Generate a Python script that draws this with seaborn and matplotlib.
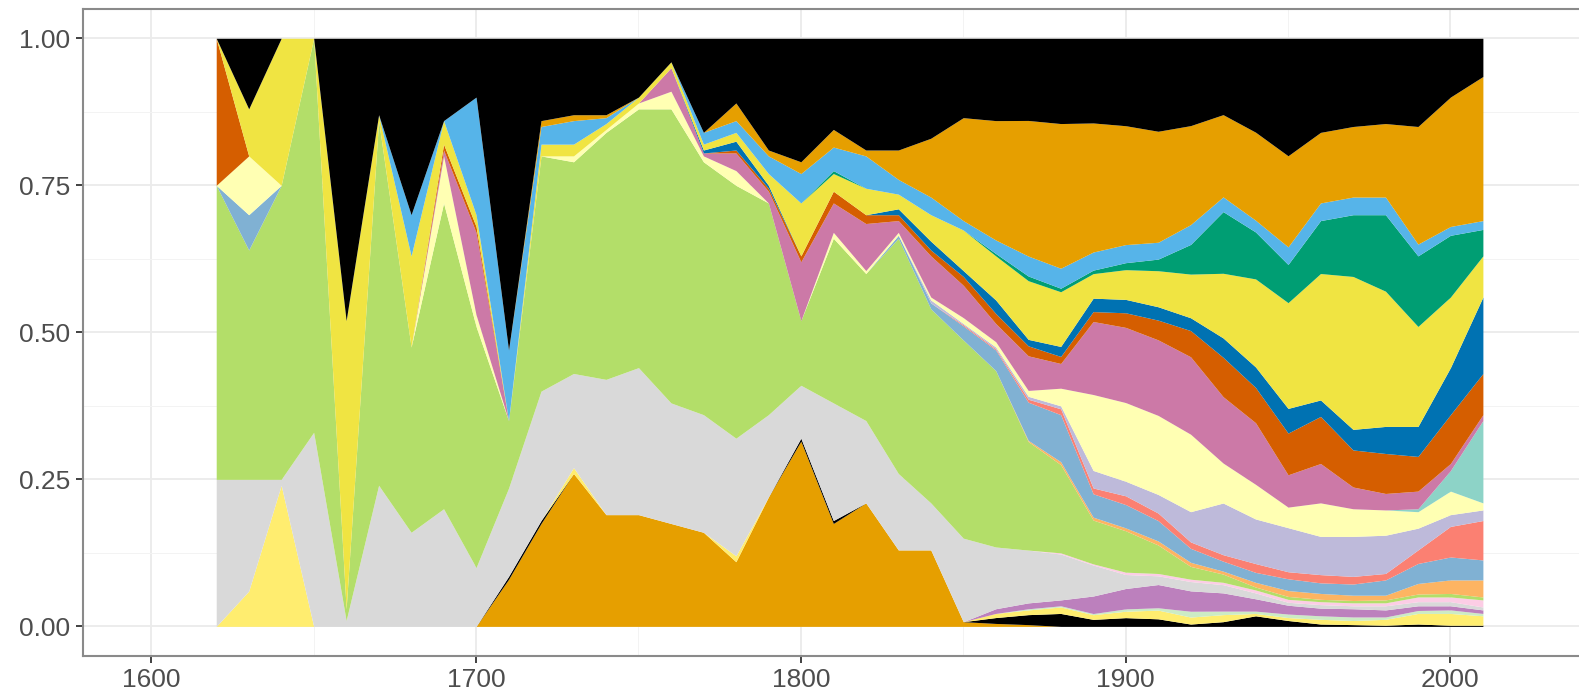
import numpy as np
import pandas as pd
import matplotlib
matplotlib.use("Agg")
import matplotlib.pyplot as plt
import seaborn as sns

# --- data: share of each group per decade ---
decades = list(range(1620, 2020, 10))

black = [0, .12, 0, 0, .48, .13, .30, .14, .10, .53,
         .14, .13, .13, .10, .04, .16, .11, .19, .21, .155,
         .19, .19, .17, .135, .14, .14, .145, .145, .15, .16,
         .15, .13, .16, .20, .16, .15, .145, .15, .10, .065]
orange = [0, 0, 0, 0, 0, 0, 0, 0, 0, 0,
          .01, .01, .005, 0, 0, 0, .03, .01, .02, .03,
          .01, .05, .10, .175, .203, .231, .246, .221, .204, .191,
          .17, .14, .15, .155, .12, .12, .125, .20, .22, .245]
sky_blue = [0, 0, 0, 0, 0, 0, .07, 0, .20, .12,
            .03, .04, .01, 0, 0, .02, .02, .03, .05, .04,
            .055, .025, .03, .016, .023, .034, .034, .031, .031, .029,
            .034, .025, .02, .03, .03, .03, .03, .02, .015, .015]
green = [0] * 19 + [.005, 0, 0, 0, 0, .004, .008, .006, .006, .012, .02,
                    .051, .105, .08, .065, .09, .105, .13, .12, .105, .045]
yellow = [0, .08, .25, 0, .49, .01, .155, .04, .02, 0,
          .02, .02, .01, .01, .01, .01, .015, .02, .09, .03,
          .045, .025, .045, .069, .075, .10, .093, .042, .051, .062,
          .075, .11, .15, .18, .215, .26, .23, .17, .12, .07]
blue = [0] * 15 + [.005, .015, .005, 0, 0,
                   0, .01, .015, .01, .023, .011, .017, .023, .023, .023,
                   .022, .033, .035, .042, .028, .035, .046, .051, .08, .13]
vermillion = [.25, 0, 0, 0, 0, 0, 0, .01, .01, 0,
              0, 0, 0, 0, 0, 0, .005, .005, .01, .02,
              .015, .01, .01, .015, .017, .017, .012, .017, .025, .034,
              .045, .067, .06, .071, .08, .063, .068, .059, .083, .07]
reddish_purple = [0, 0, 0, 0, 0, 0, 0, .01, .14, 0,
                  0, 0, 0, 0, .04, .005, .03, .02, .10, .05,
                  .08, .02, .07, .055, .031, .059, .042, .125, .129, .13,
                  .133, .113, .105, .055, .067, .037, .028, .03, .012, .01]
teal = [0] * 37 + [.005, .035, .14]
light_yellow = [0, .10, 0, 0, 0, 0, 0, .08, .02, 0,
                0, .01, .005, .01, .03, .01, .025, 0, 0, .01,
                .005, .005, .005, .01, .009, .01, .03, .13, .135, .136,
                .133, .068, .059, .035, .057, .047, .043, .028, .04, .012]
lavender = [0] * 22 + [.005, .002, .003, .005, .005, .03, .025, .032, .052,
                       .088, .076, .075, .065, .068, .065, .037, .02, .018]
salmon = [0] * 23 + [.002, .002, .005, .01, .01, .015, .013, .011, .011,
                     .015, .012, .014, .013, .011, .023, .052, .067]
light_blue = [0, .06] + [0] * 19 + [.005, .01, .024, .035, .065, .08, .04, .04,
                                    .035, .024, .017, .017, .02, .018, .019,
                                    .026, .034, .039, .034]
light_orange = [0] * 25 + [.002, .005, .005, .005, .007, .007, .005, .008,
                           .01, .01, .009, .008, .018, .023, .029]
light_green = [.50, .39, .50, .67, .02, .62, .315, .52, .41, .115,
               .40, .36, .42, .44, .50, .43, .43, .36, .11, .28,
               .25, .40, .33, .337, .30, .185, .15, .075, .071, .049,
               .022, .014, .005, .005, .004, .004, .005, .005, .006, .005]
pink = [0] * 26 + [.002, .002, .004, .004, .004, .004, .005, .005, .005,
                   .005, .005, .008, .008, .012]
gray = [.25, .19, .01, .33, .01, .24, .16, .20, .10, .15,
        .22, .16, .23, .25, .205, .20, .20, .14, .09, .20,
        .14, .13, .08, .142, .105, .09, .078, .053, .024, .015,
        .016, .014, .01, .005, .006, .005, .007, .007, .007, .005]
purple = [0] * 24 + [.008, .01, .01, .03, .035, .04, .035, .031, .021, .015,
                     .013, .014, .012, .008, .007, .006]
mint = [0] * 25 + [.002, .002, .002, .004, .004, .01, .006, .004, .006,
                   .006, .006, .004, .005, .006, .004]
yellow_2 = [0, .06, .24, 0, 0, 0, 0, 0, 0, 0,
            0, .01, 0, 0, 0, 0, .01, 0, 0, 0,
            0, 0, 0, 0, .007, .008, .011, .008, .011, .015,
            .012, .012, .004, .005, .008, .007, .01, .018, .02, .016]
black_2 = [0, 0, 0, 0, 0, 0, 0, 0, 0, .005,
           .005, 0, 0, 0, 0, 0, 0, 0, .005, .005,
           0, 0, 0, 0, .01, .017, .022, .012, .015, .013,
           .004, .008, .018, .01, .004, .003, .002, .004, .002, .002]
orange_2 = [0, 0, 0, 0, 0, 0, 0, 0, 0, .08,
            .175, .26, .19, .19, .175, .16, .11, .22, .315, .175,
            .21, .13, .13, .008, .005, .003, 0, 0, 0, 0,
            0, 0, 0, 0, 0, 0, 0, 0, 0, 0]

layer_names = ["black", "orange", "sky_blue", "green", "yellow", "blue",
               "vermillion", "reddish_purple", "teal", "light_yellow",
               "lavender", "salmon", "light_blue", "light_orange",
               "light_green", "pink", "gray", "purple", "mint",
               "yellow_2", "black_2", "orange_2"]
layer_values = [black, orange, sky_blue, green, yellow, blue, vermillion,
                reddish_purple, teal, light_yellow, lavender, salmon,
                light_blue, light_orange, light_green, pink, gray, purple,
                mint, yellow_2, black_2, orange_2]

okabe_ito = ["#000000", "#E69F00", "#56B4E9", "#009E73",
             "#F0E442", "#0072B2", "#D55E00", "#CC79A7"]
layer_colors = okabe_ito + sns.color_palette("Set3", 12).as_hex() + ["#000000", "#E69F00"]

# long table for seaborn
rows = []
for name, vals in zip(layer_names, layer_values):
    for d, v in zip(decades, vals):
        rows.append((d, name, v))
df = pd.DataFrame(rows, columns=["decade", "layer", "share"])

sns.set_theme(style="whitegrid")
plt.rcParams["font.family"] = ["Liberation Sans", "DejaVu Sans"]

fig = plt.figure(figsize=(15.79, 6.93), dpi=100)
ax = fig.add_axes([0.0526, 0.0537, 0.9503, 0.9335])

# filled stacked polygons through decade centres = proportional area chart
edges = [float(e) for e in np.arange(1615, 2025, 10)]
sns.histplot(data=df, x="decade", weights="share", hue="layer",
             hue_order=layer_names, palette=layer_colors,
             multiple="fill", element="poly", bins=edges,
             alpha=1, linewidth=0, legend=False, ax=ax)

ax.set_xlim(1579, 2041)
ax.set_ylim(-0.05, 1.05)
ax.set_xticks([1600, 1700, 1800, 1900, 2000])
ax.set_yticks([0, 0.25, 0.5, 0.75, 1.0])
ax.set_yticklabels(["0.00", "0.25", "0.50", "0.75", "1.00"])
ax.set_xticks([1650, 1750, 1850, 1950], minor=True)
ax.set_yticks([0.125, 0.375, 0.625, 0.875], minor=True)
ax.grid(which="major", color="#EBEBEB", linewidth=1.3)
ax.grid(which="minor", color="#F3F3F3", linewidth=0.7)
ax.set_axisbelow(True)
ax.set_xlabel("")
ax.set_ylabel("")
ax.set_facecolor("white")

ax.tick_params(axis="both", which="major", bottom=True, left=True,
               direction="out", length=5, width=1.3, color="#333333",
               labelsize=19, labelcolor="#4D4D4D", pad=4)
ax.tick_params(axis="both", which="minor", bottom=False, left=False)
for sp in ax.spines.values():
    sp.set_color("#8A8A8A")
    sp.set_linewidth(1.5)

fig.savefig("out.png", dpi=100)
